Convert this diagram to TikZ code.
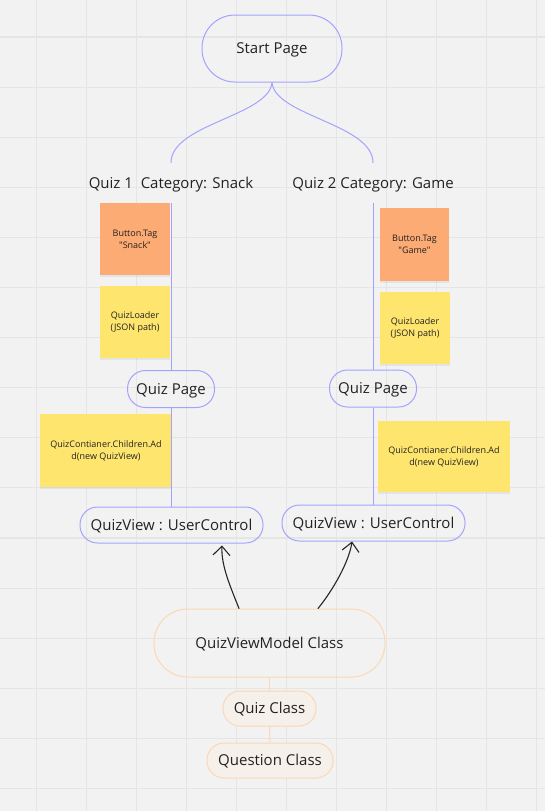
\documentclass[tikz,border=0pt]{standalone}
\usepackage{fontspec}
\setmainfont{Open Sans}[Ligatures=TeXOff]
\usetikzlibrary{arrows.meta,calc,shadows}
\definecolor{bg}{HTML}{F2F2F2}
\definecolor{gridc}{HTML}{E5E5E5}
\definecolor{lav}{HTML}{A3A3FF}
\definecolor{peach}{HTML}{FBD8B6}
\definecolor{peachfill}{HTML}{F5F0EA}
\definecolor{orangenote}{HTML}{FCAB74}
\definecolor{yellownote}{HTML}{FEE56E}
\definecolor{txt}{HTML}{222222}
\begin{document}
\begin{tikzpicture}[x=1pt,y=-1pt,
  bigtext/.style={font=\fontsize{15}{18}\selectfont, text=txt, text height=10.7pt, text depth=0pt},
  pill/.style={bigtext, draw=lav, line width=1pt, inner sep=0pt},
  peachpill/.style={bigtext, draw=peach, line width=1pt, inner sep=0pt},
  note/.style={font=\fontsize{9}{12}\selectfont, text=txt, align=center, inner sep=0pt,
    drop shadow={shadow xshift=0pt, shadow yshift=-1.5pt, opacity=0.12}},
  lavline/.style={draw=lav, line width=1pt},
  peachline/.style={draw=peach, line width=1pt},
  arr/.style={draw=black!85, line width=1.1pt, line cap=round,
    -{Straight Barb[length=9pt,width=17pt,line width=1.1pt]}}
]
\useasboundingbox (0,0) rectangle (545,811);
\fill[bg] (0,0) rectangle (545,811);
\foreach \k in {0,...,10} \draw[gridc, line width=1.1pt] (36.7+50*\k,0) -- (36.7+50*\k,811);
\foreach \k in {0,...,15} \draw[gridc, line width=1.1pt] (0,37+50.1*\k) -- (545,37+50.1*\k);

% start
\node[pill, minimum width=140pt, minimum height=67pt, rounded corners=33pt] (start) at (272,48.5) {Start Page};

% category labels
\node[bigtext, minimum height=40pt, inner sep=0pt] (cat1) at (171,183) {Quiz 1\ \ Category: Snack};
\node[bigtext, minimum height=40pt, inner sep=0pt] (cat2) at (373,183) {Quiz 2 Category: Game};

\draw[lavline] (start.south) .. controls (269,116) and (171,124) .. (cat1.north);
\draw[lavline] (start.south) .. controls (275,116) and (373,124) .. (cat2.north);

% sticky notes
\node[note, fill=orangenote, minimum width=70pt, minimum height=72pt] (bt1) at (135,239) {Button.Tag\\"Snack"};
\node[note, fill=yellownote, minimum width=70pt, minimum height=72pt] (ql1) at (135,322) {QuizLoader\\(JSON path)};
\node[note, fill=orangenote, minimum width=69pt, minimum height=73pt] (bt2) at (414.5,244.5) {Button.Tag\\"Game"};
\node[note, fill=yellownote, minimum width=70pt, minimum height=72pt] (ql2) at (415,328) {QuizLoader\\(JSON path)};

% quiz pages
\node[pill, minimum width=87pt, minimum height=37pt, rounded corners=18pt] (qp1) at (171,389) {Quiz Page};
\node[pill, minimum width=87pt, minimum height=37pt, rounded corners=18pt] (qp2) at (373,388.5) {Quiz Page};

\node[note, fill=yellownote, minimum width=132pt, minimum height=73pt] (qc1) at (106,450.5) {QuizContianer.Children.Ad\\d(new QuizView)};
\node[note, fill=yellownote, minimum width=132pt, minimum height=71pt] (qc2) at (444,456.5) {QuizContianer.Children.Ad\\d(new QuizView)};

% quiz views
\node[pill, minimum width=183pt, minimum height=36pt, rounded corners=17.5pt] (qv1) at (171.5,525) {QuizView : UserControl};
\node[pill, minimum width=183pt, minimum height=36pt, rounded corners=17.5pt] (qv2) at (373.5,523) {QuizView : UserControl};

% vertical lines
\draw[lavline] (cat1.south) -- (qp1.north);
\draw[lavline] (cat2.south) -- (qp2.north);
\draw[lavline] (qp1.south) -- (qp1.south |- qv1.north);
\draw[lavline] (qp2.south) -- (qp2.south |- qv2.north);

% classes
\node[peachpill, minimum width=231pt, minimum height=68pt, rounded corners=33.5pt] (qvm) at (269.5,643) {QuizViewModel Class};
\node[peachpill, fill=peachfill, minimum width=93pt, minimum height=35pt, rounded corners=17pt] (qz) at (269.5,708.5) {Quiz Class};
\node[peachpill, fill=peachfill, minimum width=126pt, minimum height=35pt, rounded corners=17pt] (qs) at (270,760.5) {Question Class};

\draw[peachline] (qvm.south) -- (qz.north);
\draw[peachline] (qz.south) -- (qs.north);

% arrows
\draw[arr] ($(qvm.north)+(-30.5,0)$) .. controls (231,588) and (221,566) .. ($(qv1.south)+(50.5,2)$);
\draw[arr] ($(qvm.north)+(48.5,0)$) .. controls (333,590) and (349,562) .. ($(qv2.south)+(-21.5,0)$);
\end{tikzpicture}
\end{document}
